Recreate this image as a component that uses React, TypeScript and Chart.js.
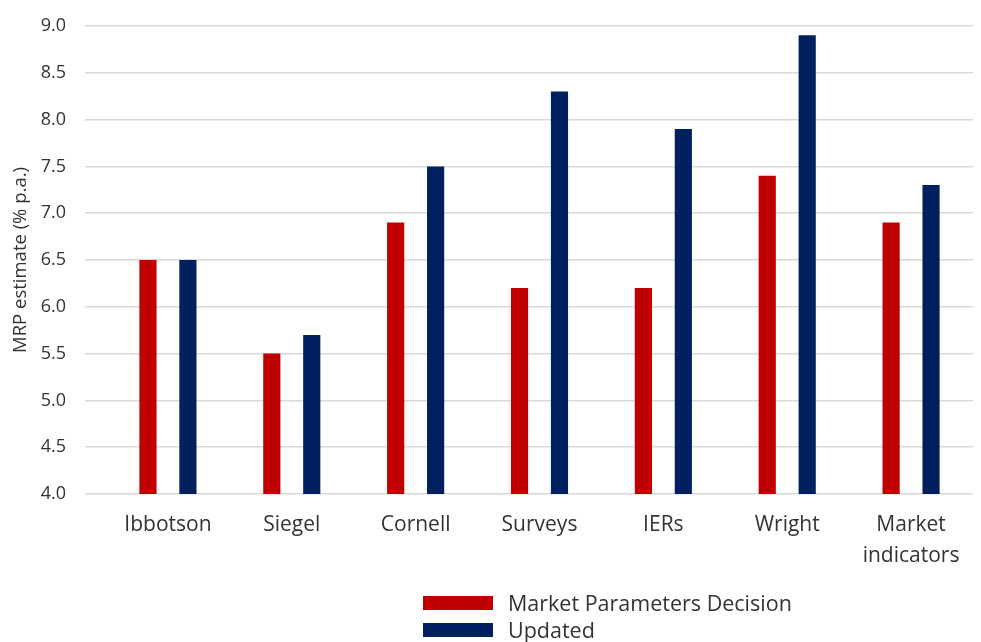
import React, { useEffect, useRef } from "react";
import { Chart, registerables } from "chart.js";

Chart.register(...registerables);

const categories: (string | string[])[] = [
  "Ibbotson",
  "Siegel",
  "Cornell",
  "Surveys",
  "IERs",
  "Wright",
  ["Market", "indicators"],
];
const marketParametersDecision = [6.5, 5.5, 6.9, 6.2, 6.2, 7.4, 6.9];
const updated = [6.5, 5.7, 7.5, 8.3, 7.9, 8.9, 7.3];
const seriesNames = ["Market Parameters Decision", "Updated"];
const seriesColors = ["#C00000", "#002060"];
const yTitle = "MRP estimate (% p.a.)";

const FONT = "'Open Sans', sans-serif";
const TEXT = "#333333";

export default function App() {
  const ref = useRef<HTMLCanvasElement | null>(null);

  useEffect(() => {
    document.body.style.margin = "0";
    if (!ref.current) return;
    const chart = new Chart(ref.current, {
      type: "bar",
      data: {
        labels: categories,
        datasets: [
          {
            label: seriesNames[0],
            data: marketParametersDecision,
            backgroundColor: seriesColors[0],
            categoryPercentage: 0.645,
            barPercentage: 0.43,
          },
          {
            label: seriesNames[1],
            data: updated,
            backgroundColor: seriesColors[1],
            categoryPercentage: 0.645,
            barPercentage: 0.43,
          },
        ],
      },
      options: {
        animation: false,
        responsive: false,
        devicePixelRatio: 1,
        layout: { padding: { top: 26, right: 8, left: 0, bottom: 0 } },
        plugins: {
          legend: { display: false },
          tooltip: { enabled: false },
        },
        scales: {
          x: {
            grid: { display: false },
            border: { display: false },
            ticks: {
              color: TEXT,
              font: { family: FONT, size: 21, lineHeight: 1.5 },
              padding: 7,
              maxRotation: 0,
              autoSkip: false,
            },
            afterFit: (s: any) => {
              s.height = 642 - 494;
              s.paddingLeft = 0;
              s.paddingRight = 0;
            },
          },
          y: {
            min: 4,
            max: 9,
            grid: { color: "#d9d9d9", lineWidth: 1.5, drawTicks: true, tickLength: 21 },
            border: { display: false },
            ticks: {
              stepSize: 0.5,
              color: TEXT,
              padding: 19,
              font: { family: FONT, size: 18 },
              callback: (v: any) => Number(v).toFixed(1),
            },
            title: {
              display: true,
              text: yTitle,
              color: TEXT,
              font: { family: FONT, size: 18.5 },
              padding: { top: 10, bottom: 0 },
            },
            afterFit: (s: any) => {
              s.width = 106;
              s.paddingTop = 0;
              s.paddingBottom = 0;
            },
          },
        },
      },
    });
    return () => chart.destroy();
  }, []);

  return (
    <div style={{ position: "relative", width: 981, height: 642, background: "#fff" }}>
      <canvas ref={ref} width={981} height={642} style={{ display: "block" }} />
      <div
        style={{
          position: "absolute",
          left: 423,
          top: 589,
          fontFamily: FONT,
          fontSize: 21.5,
          color: TEXT,
        }}
      >
        {seriesNames.map((n, i) => (
          <div key={n} style={{ display: "flex", alignItems: "center", height: 27 }}>
            <span
              style={{
                display: "inline-block",
                width: 70,
                height: 14,
                background: seriesColors[i],
                marginRight: 15,
              }}
            />
            <span style={{ whiteSpace: "nowrap", lineHeight: "27px" }}>{n}</span>
          </div>
        ))}
      </div>
    </div>
  );
}
